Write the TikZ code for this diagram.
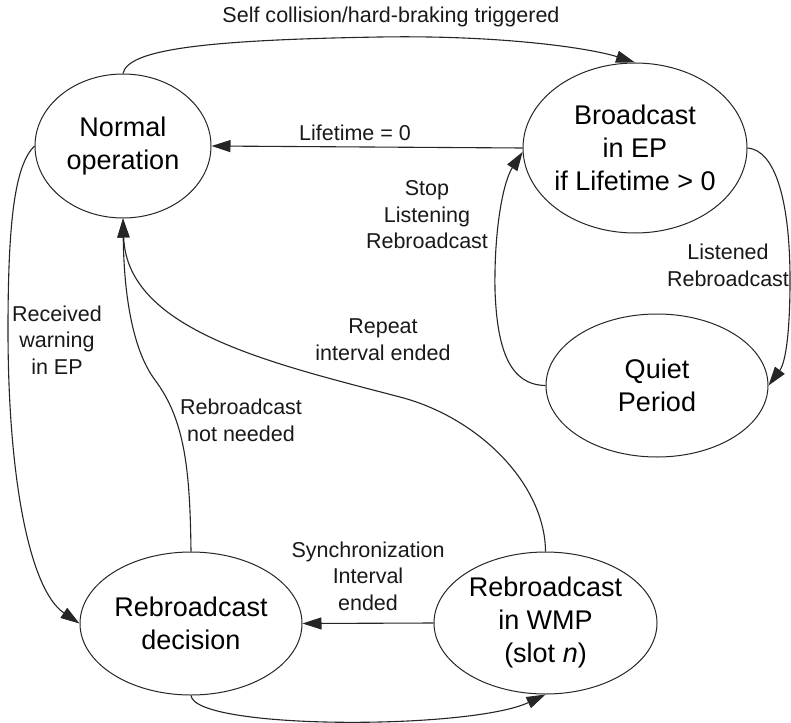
\documentclass[tikz,border=0pt]{standalone}
\usepackage{fontspec}
\setmainfont{Liberation Sans}
\usetikzlibrary{shapes.geometric,arrows.meta}
\begin{document}
\begin{tikzpicture}[x=1pt,y=-1pt,
  state/.style={ellipse, draw=black!85, line width=1pt, inner sep=0pt, align=center,
                font=\fontsize{27}{33}\selectfont},
  lbl/.style={align=center, inner sep=0pt, text=black!90,
              font=\fontsize{21.5}{26.5}\selectfont},
  conn/.style={draw=black!85, line width=1.1pt, -{Triangle[length=19pt,width=12pt]}}]

\useasboundingbox[fill=white] (0,0) rectangle (791,722);

% states
\node[state, minimum width=176pt, minimum height=144pt] (no) at (123,146) {Normal\\operation};
\node[state, minimum width=224pt, minimum height=170pt, inner xsep=-4pt] (be) at (635,148) {Broadcast\\in EP\\if Lifetime > 0};
\node[state, minimum width=222pt, minimum height=143pt] (qp) at (657,385.5) {Quiet\\Period};
\node[state, minimum width=222pt, minimum height=143pt] (de) at (191,623.5) {Rebroadcast\\decision};
\node[state, minimum width=223pt, minimum height=142pt] (wm) at (545.5,623) {Rebroadcast\\in WMP\\(slot \textit{n})};

% transitions
\draw[conn] (no.north) .. controls (128,50) and (200,40) .. (380,37)
                       .. controls (500,35) and (590,48) .. (be.north);
\draw[conn] (be.west) -- (no.east);
\draw[conn] (be.east) .. controls (775,150) and (790,200) .. (790,280)
                      .. controls (790,330) and (786,362) .. (qp.east);
\draw[conn] (qp.west) .. controls (510,385) and (497,350) .. (495,290)
                      .. controls (494,230) and (503,182) .. (be.182);
\draw[conn] (no.west) .. controls (15,165) and (8,220) .. (8,330)
                      .. controls (8,480) and (30,590) .. (de.west);
\draw[conn] (de.north) .. controls (190,470) and (185,420) .. (155,380)
                       .. controls (134,352) and (124,300) .. (no.south);
\draw[conn] (wm.north) .. controls (545,485) and (480,418) .. (400,397)
                       .. controls (270,363) and (127,330) .. (no.south);
\draw[conn] (wm.west) -- (de.east);
\draw[conn] (de.south) .. controls (195,730) and (470,730) .. (wm.south);

% transition labels
\node[lbl] (l1) at (391,17) {Self collision/hard-braking triggered};
\node[lbl] (l2) at (355,133) {Lifetime = 0};
\node[lbl] (l3) at (427,215) {Stop\\Listening\\Rebroadcast};
\node[lbl] (l4) at (728,265.5) {Listened\\Rebroadcast};
\node[lbl] (l5) at (57,340) {Received\\warning\\in EP};
\node[lbl] (l6) at (383,339.5) {Repeat\\interval ended};
\node[lbl] (l7) at (241,420.5) {Rebroadcast\\not needed};
\node[lbl] (l8) at (368,576) {Synchronization\\Interval\\ended};
\end{tikzpicture}
\end{document}
